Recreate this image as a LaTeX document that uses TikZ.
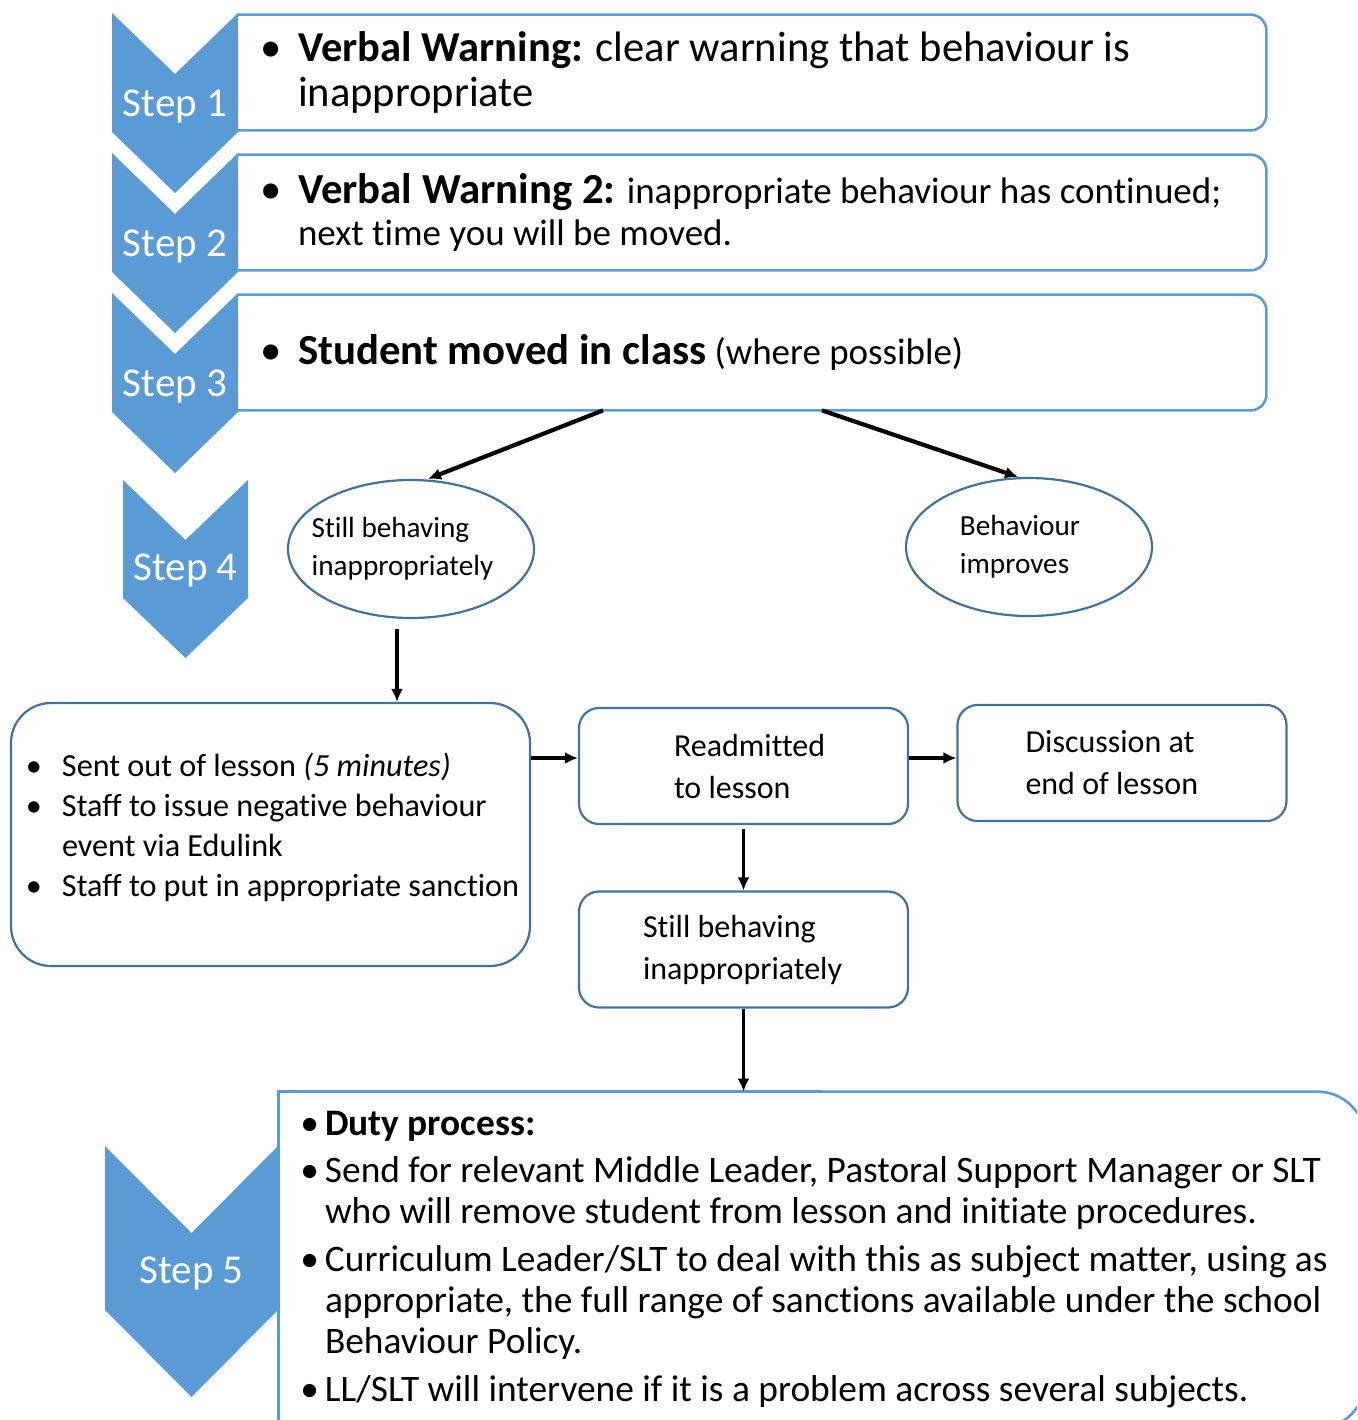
\documentclass[tikz,border=0pt]{standalone}
\usepackage{fontspec}
\setmainfont{Carlito}[Ligatures=NoCommon]
\usetikzlibrary{arrows.meta}
\usetikzlibrary{positioning}
\usetikzlibrary{shapes.geometric}
\definecolor{chevblue}{RGB}{91,155,213}
\definecolor{edgeblue}{RGB}{65,113,156}
\newcommand{\stepbul}[1]{\leavevmode\llap{\textbullet\hspace{#1}}}

\begin{document}
\begin{tikzpicture}
	[x=0.5pt,y=-0.5pt,
	 chev/.style={fill=chevblue,draw=none},
	 steplabel/.style={text=white,font=\fontsize{20.5}{24}\selectfont,inner sep=0pt,anchor=base},
	 stepbox/.style={rectangle,minimum width=514pt,minimum height=57.5pt,inner xsep=0pt,text width=514pt,align=flush left},
	 stepline/.style={draw=chevblue,line width=1.3pt,rounded corners=8pt},
	 oval/.style={ellipse,draw=edgeblue,line width=1.1pt,minimum width=123pt,minimum height=69pt,inner sep=0pt,align=left,font=\fontsize{14.6}{19}\selectfont},
	 flowbox/.style={rectangle,draw=edgeblue,line width=1.1pt,rounded corners=10pt,minimum width=164.5pt,minimum height=58pt,inner xsep=0pt,text width=164.5pt,align=flush left,font=\fontsize{16}{21}\selectfont},
	 flow/.style={-{Latex[length=6.5pt,width=6pt]},line width=1.7pt}]
	\useasboundingbox (0,0) rectangle (1357,1420);
	\clip (0,0) rectangle (1357,1420);

	% steps 1 to 3
	\node[stepbox,font=\fontsize{21.3}{22.5}\selectfont] (b1) at (752,72.5) {\leftskip=30pt\relax\stepbul{8pt}\textbf{Verbal Warning:} clear warning that behaviour is\\ inappropriate\par};
	\node[stepbox,font=\fontsize{18.5}{21}\selectfont] (b2) at (752,212.5) {\leftskip=30pt\relax{\fontsize{21.4}{21}\selectfont\stepbul{8pt}\textbf{Verbal Warning 2:}} inappropriate behaviour has continued;\\ next time you will be moved.\par};
	\node[stepbox,font=\fontsize{18.5}{21}\selectfont] (b3) at (752,352.5) {\leftskip=30pt\relax{\fontsize{21.4}{21}\selectfont\stepbul{8pt}\textbf{Student moved in class}} (where possible)\par};
	\foreach \b in {b1,b2,b3}
		\draw[stepline] (\b.south west) -- (\b.south east) -- (\b.north east) -- (\b.north west);

	\foreach \t/\n in {13/1,153/2,293/3}{
		\fill[chev] (112,\t) -- (175,\t+61) -- (238,\t) -- (238,\t+119) -- (175,\t+180) -- (112,\t+119) -- cycle;
		\node[steplabel] (s\n) at (175,\t+103) {Step \n};
	}

	% step 4
	\fill[chev] (123,480) -- (185.5,540) -- (248,480) -- (248,598) -- (185.5,658) -- (123,598) -- cycle;
	\node[steplabel] (s4) at (185.5,580) {Step 4};

	\node[oval,inner xsep=-7pt] (e1) at (411,549) {Still behaving\\ inappropriately\kern8.5pt};
	\node[oval] (e2) at (1029,547) {Behaviour\kern9pt\\ improves};

	\node[flowbox,minimum width=259.5pt,minimum height=131.5pt,text width=259.5pt,rounded corners=20pt,font=\fontsize{16.1}{20}\selectfont] (lb) at (270.5,834.5)
		{\leftskip=25.5pt\relax\stepbul{10pt}Sent out of lesson \textit{(5 minutes)}\\
		 \stepbul{10pt}Staff to issue negative behaviour\\ event via Edulink\\
		 \stepbul{10pt}Staff to put in appropriate sanction\par\kern7pt};
	\node[flowbox] (ra) at (743.5,766) {\leftskip=47.5pt\relax Readmitted\\ to lesson\par};
	\node[flowbox] (dl) at (1122,763) {\leftskip=34pt\relax Discussion at\\ end of lesson\par};
	\node[flowbox] (sb) at (743.5,949.5) {\leftskip=32pt\relax Still behaving\\ inappropriately\par};

	% step 5
	\node[rectangle,minimum width=543pt,minimum height=168pt,inner xsep=0pt,text width=543pt,align=flush left,font=\fontsize{18.7}{20.5}\selectfont] (b5) at (822,1260)
		{\leftskip=23pt\relax\stepbul{3pt}\textbf{Duty process:}\par\vspace{3pt}
		 \stepbul{3pt}Send for relevant Middle Leader, Pastoral Support Manager or SLT\\ who will remove student from lesson and initiate procedures.\par\vspace{3.5pt}
		 \stepbul{3pt}Curriculum Leader/SLT to deal with this as subject matter, using as\\ appropriate, the full range of sanctions available under the school\\ Behaviour Policy.\par\vspace{3.5pt}
		 \stepbul{3pt}LL/SLT will intervene if it is a problem across several subjects.\par};
	\draw[draw=chevblue,line width=1.3pt] (b5.south west) -- (b5.north west) -- (b5.north);
	\draw[stepline,rounded corners=24pt] (b5.north) -- (b5.north east) -- (b5.south east) -- (b5.south);
	\fill[chev] (105,1146) -- (191.5,1233) -- (278,1146) -- (278,1310) -- (191.5,1397) -- (105,1310) -- cycle;
	\node[steplabel] (s5) at (191.5,1283) {Step 5};

	\draw[flow,line width=2.1pt] ([xshift=-74.5pt]b3.south) -- ([xshift=8.5pt]e1.north);
	\draw[flow,line width=2.1pt] ([xshift=35pt]b3.south) -- ([xshift=-5.5pt]e2.north);
	\draw[flow] ([xshift=-7pt,yshift=-5pt]e1.south) -- ([xshift=-7pt]e1.south |- lb.north);
	\draw[flow] ([yshift=4pt]ra.west -| lb.east) -- ([yshift=4pt]ra.west);
	\draw[flow] ([yshift=4pt]ra.east) -- ([yshift=4pt]ra.east -| dl.west);
	\draw[flow] ([yshift=-2pt]ra.south) -- (sb.north);
	\draw[flow] (sb.south) -- (sb.south |- b5.north);
\end{tikzpicture}
\end{document}
